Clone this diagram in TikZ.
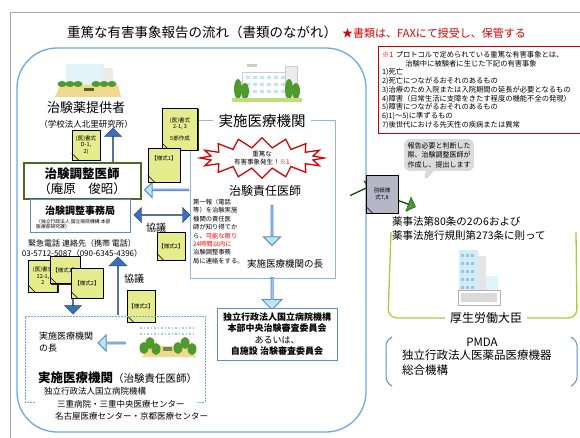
\documentclass[tikz,border=0pt]{standalone}
\usepackage{fontspec}
\setmainfont{Noto Sans CJK JP}
\usetikzlibrary{shapes.arrows,shapes.symbols,shapes.callouts,shadows}

\definecolor{frameblue}{HTML}{6AAAE4}
\definecolor{noteblue}{HTML}{5B8FD0}
\definecolor{paleblue}{HTML}{BFE6F4}
\definecolor{arrowblue}{HTML}{3D6FB6}
\definecolor{sheetyellow}{HTML}{E4EC8E}
\definecolor{sheetgray}{HTML}{B6B6C6}
\definecolor{leafgreen}{HTML}{4E9A2E}
\definecolor{limegreen}{HTML}{A8CF3A}
\definecolor{doctorgreen}{HTML}{4C6B22}
\definecolor{sand}{HTML}{F0D98E}

\newcommand{\fsz}[2]{\fontsize{#1}{#2}\selectfont}
% curled corner of a sheet
\newcommand{\curl}[1]{\filldraw[fill=sheetyellow!70!black, line width=0.5pt]
  ([xshift=7pt]#1.south west) .. controls ([shift={(4pt,4pt)}]#1.south west)
  .. ([yshift=7pt]#1.south west) -- cycle;}

\begin{document}
\begin{tikzpicture}[x=1pt, y=-1pt,
    sheet/.style={draw, fill=sheetyellow, line width=0.6pt, inner sep=1pt,
                  drop shadow={shadow xshift=1.4pt, shadow yshift=-1.4pt,
                  fill=black!85, opacity=1},
                  minimum width=28pt, minimum height=30pt, align=center,
                  font=\fsz{5.5}{6.5}},
    infobox/.style={draw=noteblue, line width=1pt, fill=white, align=center},
    darrow/.style={single arrow, draw=arrowblue!60!black, fill=arrowblue,
                   inner sep=0pt, minimum width=17pt,
                   single arrow head extend=5pt},
    larrow/.style={single arrow, draw=noteblue, line width=1pt, fill=paleblue,
                   inner sep=0pt, minimum width=17pt,
                   single arrow head extend=4.5pt},
    garrow/.style={single arrow, draw=green!25!black, fill=leafgreen,
                   inner sep=0pt, minimum width=15pt, minimum height=26pt,
                   single arrow head extend=4pt},
    txt/.style={inner sep=0pt}
  ]
  \useasboundingbox (0,0) rectangle (580,438);
  \fill[white] (0,0) rectangle (580,438);
  % page frame
  \draw[gray!70, line width=0.8pt] (10,438) -- (10,12) -- (580,12);

  % title
  \node[txt, font=\fsz{13.5}{16}] (title) at (202,32)
    {重篤な有害事象報告の流れ（書類のながれ）};
  \node[txt, anchor=west, text=red!85!black, font=\fsz{11}{13}] (faxnote)
    at (342,33) {★書類は、FAXにて授受し、保管する};

  % trial area
  \draw[frameblue, line width=1.3pt, rounded corners=40pt]
    (17,48) rectangle (366,432);

  % supplier icon
  \fill[paleblue!45] (66,64) rectangle (104,86);
  \fill[gray!15] (103,68) rectangle (113,86);
  \fill[sand] (55,97) -- (60,85) -- (118,85) -- (121,97) -- cycle;
  \foreach \x in {62,70,78,96,104,112}
    \fill[leafgreen] (\x,84) ellipse (4.5 and 3);
  \fill[doctorgreen] (84,88) rectangle (94,91);

  \node[txt, font=\fsz{13}{15}] (supplier) at (86,108) {治験薬提供者};
  \node[txt, font=\fsz{8.5}{10}] (supplierorg) at (86,124)
    {（学校法人北里研究所）};

  % hospital icon
  \fill[white, draw=gray!40] (242,72) rectangle (290,98);
  \foreach \x in {246,253,260,267,274,281}
    \foreach \y in {76,83,90}
      \fill[paleblue] (\x,\y) rectangle +(4,3);
  \fill[gray!15, draw=gray!40] (285,66) rectangle (297,98);
  \fill[gray!40] (247,64) rectangle (257,67);
  \foreach \x/\h in {238/10,245/8,289/10,296/8}
    \fill[leafgreen] (\x,99-\h) ellipse (4 and \h);
  \fill[limegreen!70] (232,98) rectangle (302,102);

  % hospital box
  \node[txt, font=\fsz{14.5}{17}] (hospital) at (262,121) {実施医療機関};
  \draw[frameblue!80, line width=1pt] ([xshift=-5pt]hospital.west)
    -- (190,121) |- (335,278) |- ([xshift=5pt]hospital.east);

  \node[starburst, draw=red!85!black, line width=1.3pt, fill=white,
        minimum width=124pt, minimum height=38pt, starburst points=16,
        starburst point height=10pt, random starburst=0, align=center,
        inner sep=0pt, font=\fsz{6.5}{8.5}] (alert) at (262,158)
    {重篤な\\有害事象発生！{\color{red}※1}};

  \node[txt, font=\fsz{12}{14}] (investigator) at (265,191) {治験責任医師};
  \node[larrow, rotate=-90, minimum height=40pt] (tohead) at (272,225) {};
  \node[txt, anchor=north west, align=left, font=\fsz{6.3}{8.4}] (report)
    at (193,199) {第一報（電話\\等）を治験実施\\機関の責任医\\師が知り得てか\\
    ら、{\color{red}可能な限り}\\{\color{red}24時間以内に}\\治験調整事務\\
    局に連絡をする。};
  \node[txt, anchor=west, font=\fsz{9.5}{11}] (sitehead) at (247,264)
    {実施医療機関の長};

  % review board
  \node[larrow, rotate=-90, minimum width=20pt, minimum height=32pt]
    (toirb) at (272,293) {};
  \node[infobox, minimum width=120pt, minimum height=52pt,
        font=\fsz{9}{11.5}\bfseries] (irb) at (277,334)
    {独立行政法人国立病院機構\\本部中央治験審査委員会\\
     {\mdseries あるいは、}\\自施設 治験審査委員会};

  % coordinating doctor
  \node[darrow, rotate=90, minimum height=46pt] (supup) at (113,151) {};
  \node[sheet] (supform) at (86,145) {(医)書式\\D-1,\\2)};
  \curl{supform}
  \node[draw=doctorgreen, line width=2pt, fill=white, minimum width=117pt,
        minimum height=36pt, align=center, font=\fsz{12.5}{15}] (doctor)
    at (82,181) {\textbf{治験調整医師}\\（庵原　俊昭）};
  \node[infobox, minimum width=100pt, minimum height=32pt, inner sep=2pt]
    (office) at (80,216) {};
  \node[txt, font=\fsz{10}{12}\bfseries] (officename) at (80,211)
    {治験調整事務局};
  \node[txt, anchor=north west, align=left, font=\fsz{4.8}{5.6}]
    (officeorg) at (36,219)
    {（独立行政法人 国立病院機構 本部\\医療部研究課）};
  \node[txt, font=\fsz{8}{10}] (hotline) at (82,243)
    {緊急電話 連絡先（携帯 電話）};
  \node[txt, font=\fsz{8}{10}] (hotnumber) at (82,253)
    {03-5712-5087（090-6345-4396）};

  \node[larrow, rotate=180, minimum width=15pt, minimum height=44pt]
    (todoctor) at (167,190) {};
  \node[sheet, minimum width=35pt, minimum height=42pt] (formsix)
    at (180,129) {(医)書式\\2-1, 3\\[5pt]5部作成};
  \curl{formsix}
  \node[sheet, minimum width=32pt, minimum height=34pt] (formone)
    at (164,165) {【様式1】\\[8pt]};
  \curl{formone}

  \node[double arrow, draw=arrowblue!60!black, fill=arrowblue, inner sep=0pt,
        minimum width=15pt, double arrow head extend=4pt,
        minimum height=56pt] (consult) at (162,215) {};
  \node[txt, font=\fsz{10}{12}] (consulttxt) at (156,228) {協議};
  \node[sheet, minimum width=28pt, minimum height=28pt] (formtwo)
    at (171,246) {【様式2】};
  \curl{formtwo}

  % site side
  \node[darrow, rotate=-90, minimum height=52pt] (sitedown) at (73,288) {};
  \node[darrow, rotate=90, minimum width=18pt, minimum height=58pt]
    (siteup) at (118,286) {};
  \node[txt, font=\fsz{10}{12}] (consultsite) at (134,279) {協議};
  \node[sheet, minimum width=29pt, minimum height=32pt] (stackc) at (43,276)
    {(医)書式\\12-1,\\2};
  \curl{stackc}
  \node[sheet, minimum width=30pt, minimum height=27pt] (stacka) at (65,270)
    {【様式1】};
  \curl{stacka}
  \node[sheet, minimum width=32pt, minimum height=30pt] (stackb) at (87,283)
    {【様式2】};
  \curl{stackb}
  \node[sheet, minimum width=28pt, minimum height=32pt] (formtwob)
    at (141,306) {【様式2】};
  \curl{formtwob}

  % site box
  \draw[frameblue, line width=1pt, dash pattern=on 2pt off 1pt]
    (35,402) -- (25,402) -- (25,316) -- (205,316) -- (205,402) -- (197,402);
  \node[txt, anchor=north west, align=left, font=\fsz{9}{12}] (sitechief)
    at (39,332) {実施医療機関\\の長};
  \node[larrow, rotate=180, minimum width=16pt, minimum height=27pt]
    (tosite) at (112,343) {};
  % trees icon
  \foreach \y in {328,334}
    \draw[frameblue!60, dotted, line width=1.5pt] (140,\y) -- (196,\y);
  \fill[sand] (142,357) -- (150,346) -- (188,346) -- (196,357) -- cycle;
  \foreach \x/\y in {144/348,150/343,156/349,178/348,185/343,192/349}
    \fill[leafgreen] (\x,\y) ellipse (4.5 and 6);
  \fill[doctorgreen!80] (163,347) rectangle (172,351);

  \node[txt, anchor=west, font=\fsz{12.5}{15}] (sitename) at (38,378)
    {\textbf{実施医療機関}{\fsz{10.5}{13}（治験責任医師）}};
  \node[txt, anchor=west, font=\fsz{8.5}{10}] (siteorg) at (44,391)
    {独立行政法人国立病院機構};
  \node[txt, anchor=west, font=\fsz{8.5}{10}] (sitemie) at (57,404)
    {三重病院・三重中央医療センター};
  \node[txt, anchor=west, font=\fsz{8.5}{10}] (sitenagoya) at (55,416)
    {名古屋医療センター・京都医療センター};

  % serious event definition
  \node[anchor=north west, draw=red!80!black, line width=1pt, fill=white,
        minimum width=205pt, minimum height=87pt, text width=200pt,
        align=left, inner sep=3.5pt, font=\fsz{7.3}{8.7}] (protocol)
    at (378,46)
    {{\color{red}※1} プロトコルで定められている重篤な有害事象とは、\\
     \hspace*{3.2em}治験中に被験者に生じた下記の有害事象\\
     1)死亡\\2)死亡につながるおそれのあるもの\\
     3)治療のため入院または入院期間の延長が必要となるもの\\
     4)障害（日常生活に支障をきたす程度の機能不全の発現）\\
     5)障害につながるおそれのあるもの\\6)1)～5)に準ずるもの\\
     7)後世代における先天性の疾病または異常};

  \node[rectangle callout, rounded corners=6pt, fill=gray!28, draw=gray!45,
        callout absolute pointer={(424,181)}, align=center, inner sep=3pt,
        font=\fsz{7}{9.5}] (bubble) at (439,155)
    {報告必要と判断した\\際、治験調整医師が\\作成し、提出します};

  % report to the ministry
  \node[garrow, rotate=25] (infax) at (362,190) {};
  \node[garrow, rotate=-20, minimum height=22pt] (outfax) at (405,203) {};
  \node[sheet, fill=sheetgray, minimum width=32pt, minimum height=38pt]
    (form78) at (382,194) {別紙様\\式7,8};
  \filldraw[fill=sheetgray!70!black, line width=0.5pt]
    ([xshift=7pt]form78.south west) .. controls
    ([shift={(4pt,4pt)}]form78.south west) .. ([yshift=7pt]form78.south west)
    -- cycle;

  \node[txt, anchor=north west, align=left, font=\fsz{10.5}{14}] (law)
    at (392,216) {薬事法第80条の2の6および\\薬事法施行規則第273条に則って};

  % ministry building
  \fill[paleblue!70] (459,250) rectangle (478,298);
  \fill[gray!20] (478,256) rectangle (486,298);
  \fill[paleblue!50] (486,276) rectangle (498,298);
  \foreach \x in {461,466,471}
    \foreach \y in {254,262,270,278,286}
      \fill[frameblue!70] (\x,\y) rectangle +(3,3);
  \fill[white, draw=gray!60] (458,290) rectangle (500,305);
  \fill[gray!30] (461,293) rectangle (497,302);

  \node[txt, font=\fsz{12}{14}] (mhlw) at (486,318) {厚生労働大臣};
  \draw[limegreen, line width=1.3pt, rounded corners=9pt]
    ([xshift=-5pt]mhlw.west) -- (388,318) -- (391,232);
  \draw[limegreen, line width=1.3pt, rounded corners=9pt]
    ([xshift=5pt]mhlw.east) -- (577,318) -- (576,232);

  \node[txt, font=\fsz{11.5}{14}] (pmda) at (482,342) {PMDA};
  \node[txt, anchor=north west, align=left, font=\fsz{11.5}{15}]
    (pmdaname) at (402,350) {独立行政法人医薬品医療機器\\総合機構};
  \draw[noteblue, line width=1pt, rounded corners=5pt]
    (392,337) -- (386,341) -- (386,382) -- (392,386);
  \draw[noteblue, line width=1pt, rounded corners=5pt]
    (571,337) -- (577,341) -- (577,382) -- (571,386);
\end{tikzpicture}
\end{document}
